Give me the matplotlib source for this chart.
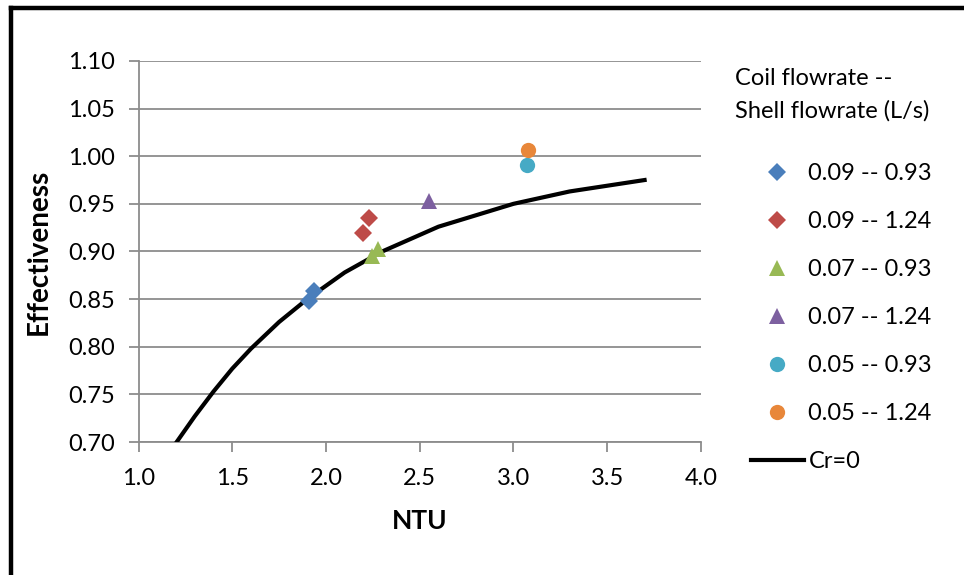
import matplotlib
matplotlib.use("Agg")
import matplotlib.pyplot as plt
from matplotlib.lines import Line2D

plt.rcParams['font.family'] = ['Lato', 'DejaVu Sans']

# data
series_labels = ["0.09 -- 0.93", "0.09 -- 1.24", "0.07 -- 0.93",
                 "0.07 -- 1.24", "0.05 -- 0.93", "0.05 -- 1.24"]
ntu_009_093 = [1.909, 1.936]
eff_009_093 = [0.848, 0.859]
ntu_009_124 = [2.196, 2.231]
eff_009_124 = [0.919, 0.935]
ntu_007_093 = [2.244, 2.276]
eff_007_093 = [0.895, 0.903]
ntu_007_124 = [2.549]
eff_007_124 = [0.953]
ntu_005_093 = [3.07]
eff_005_093 = [0.991]
ntu_005_124 = [3.08]
eff_005_124 = [1.006]
curve_ntu = [1.2, 1.3, 1.4, 1.5, 1.6, 1.75, 1.9, 2.1, 2.3, 2.6, 3.0, 3.3, 3.7]
curve_eff = [0.699, 0.727, 0.753, 0.777, 0.798, 0.826, 0.850, 0.878, 0.900, 0.926, 0.950, 0.963, 0.975]
x_ticks = [1.0, 1.5, 2.0, 2.5, 3.0, 3.5, 4.0]
y_ticks = [0.70, 0.75, 0.80, 0.85, 0.90, 0.95, 1.00, 1.05, 1.10]

series = [
    (ntu_009_093, eff_009_093, 'D', '#4A7EBB', 9),
    (ntu_009_124, eff_009_124, 'D', '#BE4B48', 9),
    (ntu_007_093, eff_007_093, '^', '#98B954', 12),
    (ntu_007_124, eff_007_124, '^', '#7D60A0', 12),
    (ntu_005_093, eff_005_093, 'o', '#46AAC5', 11),
    (ntu_005_124, eff_005_124, 'o', '#E8873A', 11),
]

fig = plt.figure(figsize=(9.64, 5.75), dpi=100)
ax = fig.add_axes([0.1437, 0.2313, 0.727 - 0.1437, 0.894 - 0.2313])

handles = []
for (xs, ys, m, c, ms), lab in zip(series, series_labels):
    h, = ax.plot(xs, ys, linestyle='none', marker=m, color=c, markersize=ms,
                 markeredgewidth=0, label=lab, zorder=4)
    handles.append(h)
lh, = ax.plot(curve_ntu, curve_eff, color='black', linewidth=3.0, label='Cr=0', zorder=3)
handles.append(lh)

ax.set_xlim(1.0, 4.0)
ax.set_ylim(0.70, 1.10)
ax.set_xticks(x_ticks)
ax.set_xticklabels([f"{v:.1f}" for v in x_ticks])
ax.set_yticks(y_ticks)
ax.set_yticklabels([f"{v:.2f}" for v in y_ticks])
ax.grid(axis='y', color='#8C8C8C', linewidth=1.3)
ax.set_axisbelow(True)
for s in ['top', 'right']:
    ax.spines[s].set_visible(False)
for s in ['left', 'bottom']:
    ax.spines[s].set_color('#8C8C8C')
    ax.spines[s].set_linewidth(1.3)
ax.tick_params(axis='both', direction='out', length=7, width=1.3, color='#8C8C8C',
               labelsize=17)
ax.tick_params(axis='x', pad=12)
ax.tick_params(axis='y', pad=10)
ax.set_xlabel('NTU', fontsize=19, fontweight='bold', labelpad=14)
ax.set_ylabel('Effectiveness', fontsize=20, fontweight='bold', labelpad=12)

fig.text(0.7625, 0.835, 'Coil flowrate --\nShell flowrate (L/s)', fontsize=17,
         ha='left', va='center', linespacing=1.65)
leg = fig.legend(handles=handles, loc='upper left', bbox_to_anchor=(0.7566, 0.753),
                 frameon=False, fontsize=17, labelspacing=1.14,
                 handlelength=2.25, handletextpad=0.2)

# outer border (left and top visible)
fig.add_artist(Line2D([0.0118, 0.0118], [0, 0.9861], transform=fig.transFigure,
                      color='black', linewidth=3.2))
fig.add_artist(Line2D([0.0118, 1.0], [0.9861, 0.9861], transform=fig.transFigure,
                      color='black', linewidth=3.2))

fig.savefig('out.png', dpi=100)
